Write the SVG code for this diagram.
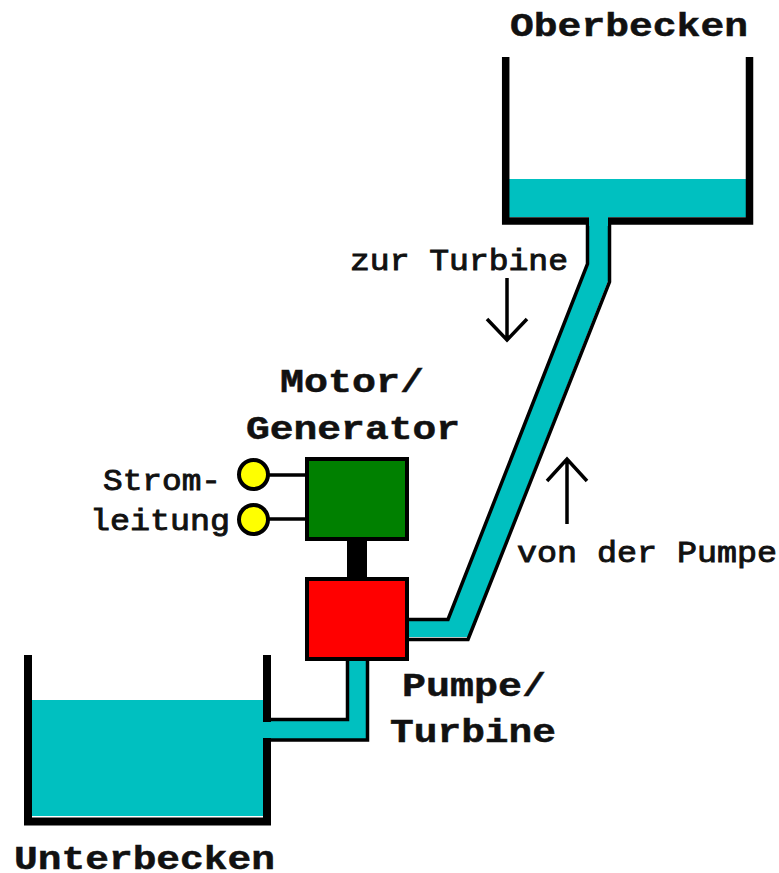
<svg xmlns="http://www.w3.org/2000/svg" width="779" height="873" viewBox="0 0 779 873">
<style>
.t{font-family:"Liberation Mono","Courier New",monospace;fill:#111;stroke:#111;stroke-width:.5}
.b{font-size:34px;font-weight:700}
.s{font-size:29px;font-weight:400;stroke-width:.9}
.w{fill:#00c0c0}
.l{fill:none;stroke:#000;stroke-linejoin:miter}
.a{fill:none;stroke:#000;stroke-width:3.500}
.box{stroke:#000;stroke-width:4}
</style>
<rect width="779" height="873" fill="#fff"/>
<g id="connectors">
<path class="w" d="M589 217H608V281L468 637H408V620H448L589 263Z"/>
<path class="w" d="M264 720H348V661H367V740H264Z"/>
<path class="l" stroke-width="3.500" d="M587.500 222V264L448 619.500H408M609.500 222V282L468 639.500H408"/>
<path class="l" stroke-width="3.500" d="M347.500 661V719.500H264M367.500 661V740H264"/>
<rect x="347" y="540" width="20" height="38" fill="#000"/>
<path class="a" d="M268 475H306M268 519H306"/>
<path class="a" d="M507 278V340M487 319L507 340L527 319"/>
<path class="a" d="M567 524V459M547 481L567 459L587 481"/>
</g>
<g id="oberbecken">
<rect class="w" x="509" y="179" width="238" height="38"/>
<path class="l" stroke-width="7.500" d="M505.700 57V221H749.500V57"/>
<rect class="w" x="589" y="214" width="19" height="12"/>
<text class="t b" x="510" y="36" textLength="238" lengthAdjust="spacingAndGlyphs">Oberbecken</text>
</g>
<g id="unterbecken">
<rect class="w" x="32" y="700" width="231" height="116"/>
<path class="l" stroke-width="8" d="M28 655V821.500H267V655"/>
<rect class="w" x="262" y="722" width="11" height="16"/>
<text class="t b" x="14" y="869" textLength="261" lengthAdjust="spacingAndGlyphs">Unterbecken</text>
</g>
<g id="motor-generator">
<rect class="box" x="307" y="459" width="100" height="80" fill="#008000"/>
<text class="t b" x="280" y="392" textLength="144" lengthAdjust="spacingAndGlyphs">Motor/</text>
<text class="t b" x="246" y="439" textLength="214" lengthAdjust="spacingAndGlyphs">Generator</text>
</g>
<g id="pumpe-turbine">
<rect class="box" x="307" y="579" width="100" height="80" fill="#f00"/>
<text class="t b" x="402" y="696" textLength="144" lengthAdjust="spacingAndGlyphs">Pumpe/</text>
<text class="t b" x="390" y="742" textLength="166" lengthAdjust="spacingAndGlyphs">Turbine</text>
</g>
<g id="stromleitung">
<circle cx="253.500" cy="474.500" r="14.500" fill="#ff0" stroke="#000" stroke-width="4"/>
<circle cx="253.500" cy="519.500" r="14.500" fill="#ff0" stroke="#000" stroke-width="4"/>
<text class="t s" x="103" y="490" textLength="118" lengthAdjust="spacingAndGlyphs">Strom-</text>
<text class="t s" x="90" y="530" textLength="140" lengthAdjust="spacingAndGlyphs">leitung</text>
</g>
<g id="labels">
<text class="t s" x="350" y="270" textLength="218" lengthAdjust="spacingAndGlyphs">zur Turbine</text>
<text class="t s" x="517" y="562" textLength="260" lengthAdjust="spacingAndGlyphs">von der Pumpe</text>
</g>
</svg>
